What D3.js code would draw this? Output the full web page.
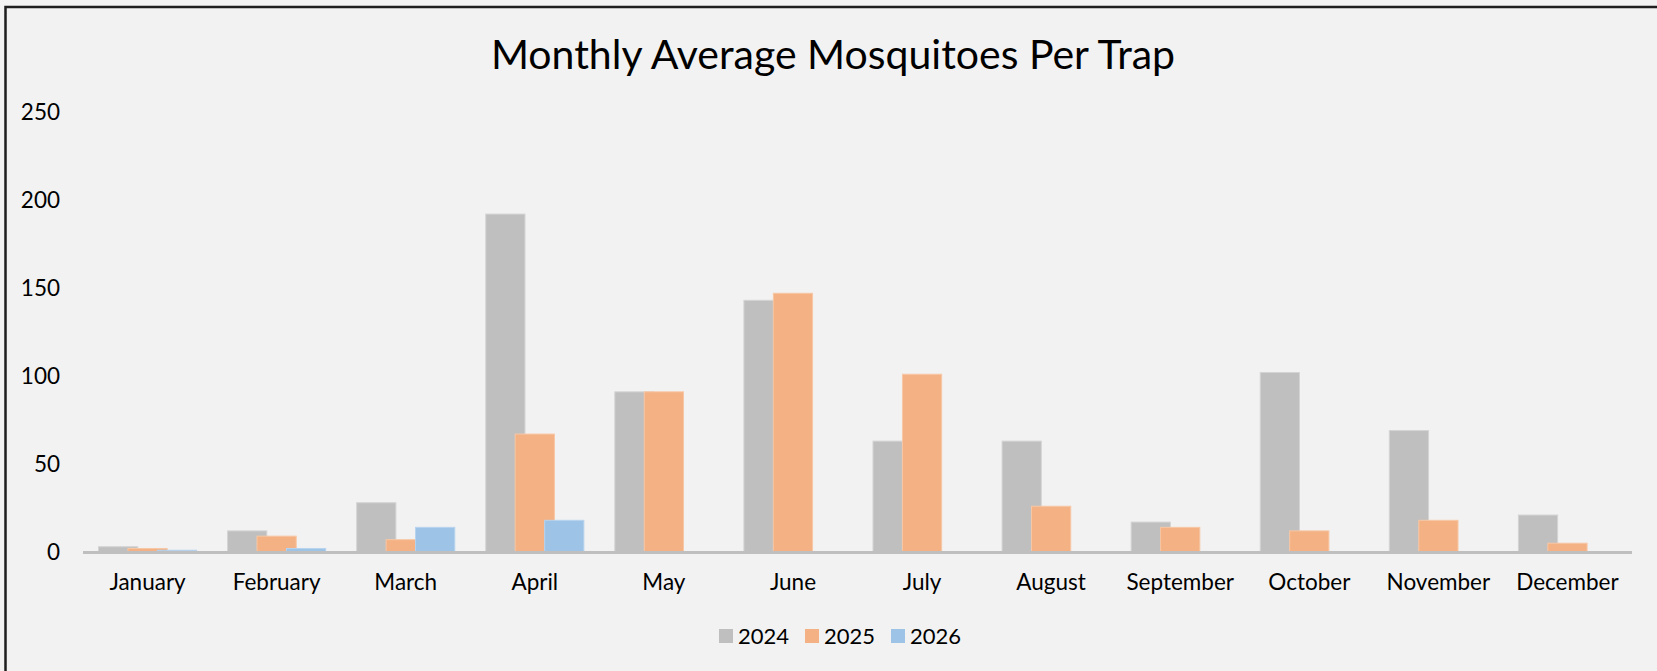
<!DOCTYPE html>
<html>
<head>
<meta charset="utf-8">
<script src="https://cdn.jsdelivr.net/npm/d3@7"></script>
<style>
  html, body { margin: 0; padding: 0; background: #f2f2f2; }
  svg { display: block; font-family: Lato, "Open Sans", sans-serif; }
</style>
</head>
<body>
<div id="chart"></div>
<script>
var months = ["January", "February", "March", "April", "May", "June",
  "July", "August", "September", "October", "November", "December"];
var years = ["2024", "2025", "2026"];
var values2024 = [3, 12, 28, 192, 91, 143, 63, 63, 17, 102, 69, 21];
var values2025 = [2, 9, 7, 67, 91, 147, 101, 26, 14, 12, 18, 5];
var values2026 = [1, 2, 14, 18, null, null, null, null, null, null, null, null];
var yTicks = [0, 50, 100, 150, 200, 250];

var width = 1657,
  height = 671;

var colors = { "2024": "#bfbfbf", "2025": "#f4b183", "2026": "#9dc3e6" };
var edges = { "2024": "#d4d4d4", "2025": "#f7c7a5", "2026": "#b7d3ee" };

var seriesData = [values2024, values2025, values2026];

var svg = d3.select('#chart').
  append('svg').
  attr('width', width).
  attr('height', height);

svg.append('rect').
  attr('width', width).
  attr('height', height).
  attr('fill', '#f2f2f2');

// frame (only left and top edges are in view)
svg.append('path').
  attr('d', 'M5.5,' + height + 'V7H' + width).
  attr('fill', 'none').
  attr('stroke', '#1e1e1e').
  attr('stroke-width', 2.5);

svg.append('text').
  attr('x', 833).
  attr('y', 69).
  attr('text-anchor', 'middle').
  style('font-size', '41px').
  style('fill', '#000').
  text('Monthly Average Mosquitoes Per Trap');

var xScale = d3.scaleBand().
  domain(months).
  range([83, 1632]).
  paddingInner(0.24).
  paddingOuter(0.12);

var yScale = d3.scaleLinear().
  domain([0, 250]).
  range([552, 112]);

var barW = xScale.bandwidth() * 0.4;
var inner = d3.scalePoint().
  domain(years).
  range([0, xScale.bandwidth() - barW]);

years.forEach(function (yr, s) {
  svg.append('g').
    selectAll('rect').
    data(seriesData[s].map(function (v, i) { return { month: months[i], value: v }; }).
      filter(function (d) { return d.value != null; })).
    enter().
    append('rect').
    attr('x', d => xScale(d.month) + inner(yr)).
    attr('y', d => yScale(d.value)).
    attr('width', barW).
    attr('height', d => yScale(0) - yScale(d.value)).
    attr('fill', colors[yr]).
    attr('stroke', edges[yr]).
    attr('stroke-width', 1);
});

// baseline
svg.append('line').
  attr('x1', 83).
  attr('x2', 1632).
  attr('y1', yScale(0) + 0.5).
  attr('y2', yScale(0) + 0.5).
  attr('stroke', '#bfbfbf').
  attr('stroke-width', 3);

var yAxis = d3.axisLeft(yScale).
  tickValues(yTicks).
  tickSize(0).
  tickPadding(23);

var gy = svg.append('g').
  attr('transform', 'translate(83,0)').
  call(yAxis);
gy.select('.domain').remove();
gy.selectAll('text').
  style('font-family', 'Lato, "Open Sans", sans-serif').
  style('font-size', '22.5px').
  style('fill', '#000');

var xAxis = d3.axisBottom(xScale).
  tickSize(0).
  tickPadding(22);

var gx = svg.append('g').
  attr('transform', 'translate(0,' + yScale(0) + ')').
  call(xAxis);
gx.select('.domain').remove();
gx.selectAll('text').
  style('font-family', 'Lato, "Open Sans", sans-serif').
  style('font-size', '22.5px').
  style('fill', '#000');

// legend
var legendX = [719, 805, 891];
var legend = svg.append('g');
years.forEach(function (yr, i) {
  legend.append('rect').
    attr('x', legendX[i]).
    attr('y', 629).
    attr('width', 14).
    attr('height', 14).
    attr('fill', colors[yr]);
  legend.append('text').
    attr('x', legendX[i] + 19).
    attr('y', 644).
    style('font-size', '22px').
    style('fill', '#000').
    text(yr);
});
</script>
</body>
</html>
